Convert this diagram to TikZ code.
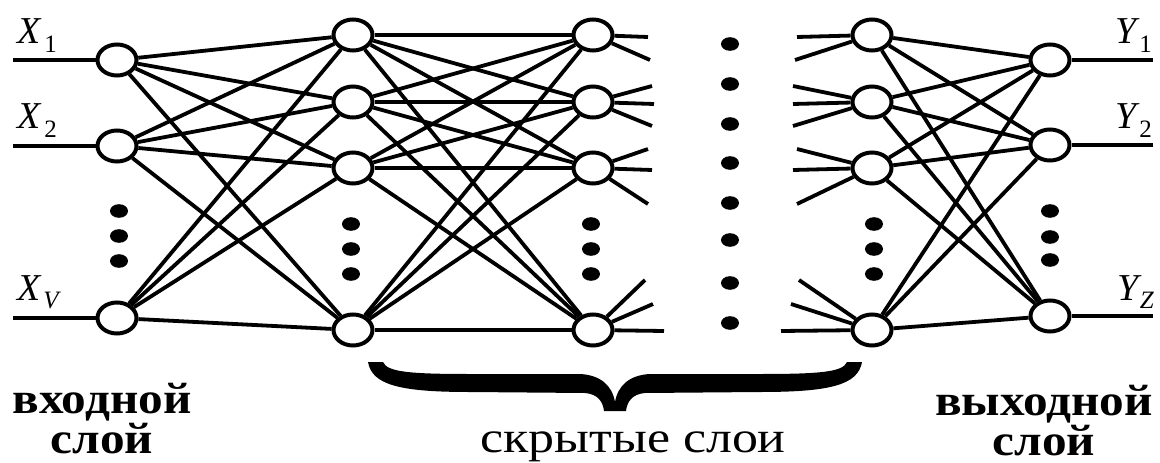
\documentclass[tikz,border=0pt]{standalone}
\usepackage{fontspec}
\setmainfont{Liberation Serif}
\usetikzlibrary{shapes.geometric}

\begin{document}
\begin{tikzpicture}[x=1pt,y=-1pt,
  neuron/.style={ellipse,draw,fill=white,line width=4pt,minimum width=39pt,minimum height=31pt,inner sep=0pt},
  link/.style={line width=3.8pt},
  dotmark/.style={fill=black},
  varlabel/.style={inner sep=0pt,font=\fontsize{38}{38}\selectfont\itshape},
  layerlabel/.style={inner sep=0pt,anchor=base,align=center,font=\fontsize{44}{40}\selectfont\bfseries},
  hiddenlabel/.style={inner sep=0pt,anchor=base,font=\fontsize{44}{44}\selectfont},
]
\useasboundingbox (0,0) rectangle (1160,463);

% input layer
\node[neuron] (i1) at (117,60) {};
\node[neuron] (i2) at (117,146) {};
\node[neuron] (i3) at (117,318) {};
% first hidden layer
\node[neuron] (ha1) at (353,35) {};
\node[neuron] (ha2) at (353,102) {};
\node[neuron] (ha3) at (353,168) {};
\node[neuron] (ha4) at (353,330) {};
% second hidden layer
\node[neuron] (hb1) at (593,35) {};
\node[neuron] (hb2) at (593,102) {};
\node[neuron] (hb3) at (593,168) {};
\node[neuron] (hb4) at (593,330) {};
% last hidden layer
\node[neuron] (hc1) at (872,35) {};
\node[neuron] (hc2) at (872,102) {};
\node[neuron] (hc3) at (872,168) {};
\node[neuron] (hc4) at (872,330) {};
% output layer
\node[neuron] (o1) at (1050,60) {};
\node[neuron] (o2) at (1050,145) {};
\node[neuron] (o3) at (1050,316) {};

% full connections between neighbouring layers
\foreach \s in {i1,i2,i3}
  \foreach \t in {ha1,ha2,ha3,ha4}
    \draw[link] (\s) -- (\t);
\foreach \s in {ha1,ha2,ha3,ha4}
  \foreach \t in {hb1,hb2,hb3,hb4}
    \draw[link] (\s) -- (\t);
\foreach \s in {hc1,hc2,hc3,hc4}
  \foreach \t in {o1,o2,o3}
    \draw[link] (\s) -- (\t);

% loose ends leaving the second hidden layer
\foreach \n/\x/\y in {s11/648/37, s12/650/60,
                      s21/652/86, s22/654/104, s23/652/126,
                      s31/648/149, s32/652/170, s33/648/204,
                      s41/645/280, s42/653/304, s43/664/331}
  \coordinate (\n) at (\x,\y);
\foreach \n in {s11,s12} \draw[link] (hb1) -- (\n);
\foreach \n in {s21,s22,s23} \draw[link] (hb2) -- (\n);
\foreach \n in {s31,s32,s33} \draw[link] (hb3) -- (\n);
\foreach \n in {s41,s42,s43} \draw[link] (hb4) -- (\n);

% loose ends entering the last hidden layer
\foreach \n/\x/\y in {t11/797/37, t12/795/60,
                      t21/793/86, t22/793/104, t23/793/126,
                      t31/797/149, t32/793/170, t33/797/204,
                      t41/799/280, t42/791/304, t43/781/331}
  \coordinate (\n) at (\x,\y);
\foreach \n in {t11,t12} \draw[link] (\n) -- (hc1);
\foreach \n in {t21,t22,t23} \draw[link] (\n) -- (hc2);
\foreach \n in {t31,t32,t33} \draw[link] (\n) -- (hc3);
\foreach \n in {t41,t42,t43} \draw[link] (\n) -- (hc4);

% input and output lines
\coordinate (inx1) at (13,60);
\coordinate (inx2) at (13,146);
\coordinate (inx3) at (13,318);
\coordinate (outy1) at (1153,60);
\coordinate (outy2) at (1153,145);
\coordinate (outy3) at (1153,316);
\draw[link] (inx1) -- (i1);
\draw[link] (inx2) -- (i2);
\draw[link] (inx3) -- (i3);
\draw[link] (o1) -- (outy1);
\draw[link] (o2) -- (outy2);
\draw[link] (o3) -- (outy3);

% variable names
\node[varlabel,anchor=base west] (lx1) at (17,43) {X\kern4pt\raisebox{-9pt}{\fontsize{25}{25}\selectfont\upshape 1}};
\node[varlabel,anchor=base west] (lx2) at (17,128) {X\kern4pt\raisebox{-9pt}{\fontsize{25}{25}\selectfont\upshape 2}};
\node[varlabel,anchor=base west] (lx3) at (17,300) {X\kern3pt\raisebox{-8pt}{\fontsize{25}{25}\selectfont V}};
\node[varlabel,anchor=base east] (ly1) at (1152,43) {Y\kern3pt\raisebox{-9pt}{\fontsize{25}{25}\selectfont\upshape 1}};
\node[varlabel,anchor=base east] (ly2) at (1152,128) {Y\kern3pt\raisebox{-9pt}{\fontsize{25}{25}\selectfont\upshape 2}};
\node[varlabel,anchor=base east] (ly3) at (1154,300) {Y\kern1pt\raisebox{-8pt}{\fontsize{25}{25}\selectfont Z}};

% ellipsis dots
\foreach \x/\y in {119/211, 119/236, 119/261,
                   351/224, 351/249, 351/274,
                   591/224, 591/249, 591/274,
                   874/224, 874/249, 874/274,
                   1050/211, 1050/237, 1050/260,
                   730/44, 730/84, 730/124, 730/163, 730/203, 730/240, 730/283, 730/323}
  \fill[dotmark] (\x,\y) ellipse (9 and 6.8);

% brace under the hidden layers
\fill (368,362) .. controls (372,385) and (400,392) .. (470,392) -- (585,393)
  .. controls (598,394) and (603,402) .. (604,411) -- (626,411)
  .. controls (627,402) and (632,394) .. (645,393) -- (760,392)
  .. controls (830,392) and (858,385) .. (862,362) -- (847,362)
  .. controls (843,372) and (820,374) .. (760,374) -- (650,374)
  .. controls (630,375) and (618,385) .. (615,402)
  .. controls (612,385) and (600,375) .. (580,374) -- (470,374)
  .. controls (410,374) and (387,372) .. (383,362) -- cycle;

% layer captions (anchored at the baseline of the second line)
\node[layerlabel] (cin) at (102,453) {\scalebox{1.12}[1]{входной}\\\scalebox{1.12}[1]{слой}};
\node[hiddenlabel] (chid) at (633,452) {\scalebox{1.18}[1]{скрытые слои}};
\node[layerlabel] (cout) at (1044,455) {\scalebox{1.12}[1]{выходной}\\\scalebox{1.12}[1]{слой}};
\end{tikzpicture}
\end{document}
